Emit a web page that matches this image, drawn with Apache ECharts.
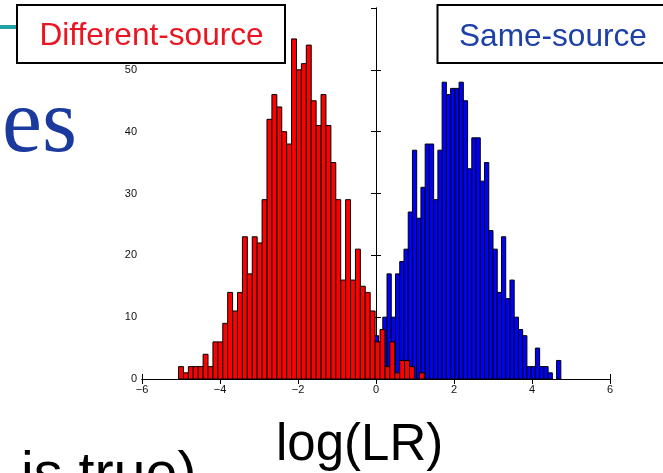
<!DOCTYPE html>
<html><head><meta charset="utf-8">
<script src="https://cdn.jsdelivr.net/npm/echarts@6/dist/echarts.min.js"></script>
<style>html,body{margin:0;padding:0;background:#fff;overflow:hidden}#c{width:663px;height:473px;}</style>
</head><body><div id="c"></div>
<script>
// ---- data ----
// Different-source (red) histogram: 50 equal bins
const redFirstCenter = -5.0;
const redBinWidth = 0.126;
const redCounts = [2,1,2,2,2,4,2,6,6,9,14,11,14,23,17,23,22,29,42,46,44,40,38,55,50,51,54,45,41,46,41,35,29,16,29,16,21,15,14,11,6,8,2,6,1,3,3,2,0,1];
// Same-source (blue) histogram: equal bins, last centre at 4.685
const blueLastCenter = 4.685;
const blueBinWidth = 0.1087;
const blueCounts = [7,6,10,17,10,17,19,21,27,37,26,31,38,38,29,37,48,46,47,47,48,45,34,39,39,32,35,24,21,14,23,13,16,10,8,7,2,2,5,2,2,1,0,3];
const xTicks = [-6,-4,-2,0,2,4,6];
const yTicks = [0,10,20,30,40,50,60];
const labelRed = 'Different-source';
const labelBlue = 'Same-source';
const xTitle = 'log(LR)';

const redData = redCounts.map((v,i)=>[redFirstCenter + i*redBinWidth, v]);
const blueData = blueCounts.map((v,i)=>[blueLastCenter - (blueCounts.length-1-i)*blueBinWidth, v]);

function barRender(width, color){
  return function(params, api){
    const c = api.value(0), v = api.value(1);
    if(!v) return;
    const p0 = api.coord([c - width/2, v]);
    const p1 = api.coord([c + width/2, 0]);
    return {type:'rect', shape:{x:p0[0], y:p0[1], width:p1[0]-p0[0], height:p1[1]-p0[1]},
      style:{fill:color, stroke:'#000', lineWidth:1}};
  };
}
const FONT = 'Liberation Sans, Arial, sans-serif';
const fmt = v => v < 0 ? '\u2212' + Math.abs(v) : String(v);
const axisCommon = {
  axisLine:{show:true, lineStyle:{color:'#000', width:1}},
  axisTick:{show:true, inside:true, length:5, lineStyle:{color:'#000', width:1}},
  splitLine:{show:false}
};
const chart = echarts.init(document.getElementById('c'), null, {renderer:'canvas'});
chart.setOption({
  backgroundColor:'#fff',
  animation:false,
  grid:{left:142, right:53, top:8, bottom:94},
  xAxis:[
    Object.assign({type:'value', min:xTicks[0], max:xTicks[xTicks.length-1], interval:2, position:'bottom',
      axisLabel:{formatter:fmt, color:'#111', fontSize:11, fontFamily:FONT, margin:5}}, axisCommon),
    Object.assign({type:'value', min:xTicks[0], max:xTicks[xTicks.length-1], interval:2, position:'top',
      axisLabel:{show:false}}, axisCommon)
  ],
  yAxis:[
    Object.assign({type:'value', min:yTicks[0], max:yTicks[yTicks.length-1], interval:10, position:'left',
      axisLabel:{formatter:fmt, color:'#111', fontSize:11, fontFamily:FONT, margin:5, showMaxLabel:false}}, axisCommon),
    Object.assign({type:'value', min:yTicks[0], max:yTicks[yTicks.length-1], interval:10, position:'right',
      axisLabel:{show:false}}, axisCommon)
  ],
  series:[
    {type:'custom', name:labelBlue, renderItem:barRender(blueBinWidth,'#0000ff'), data:blueData, encode:{x:0,y:1}, z:2},
    {type:'custom', name:labelRed, renderItem:barRender(redBinWidth,'#ff0000'), data:redData, encode:{x:0,y:1}, z:3}
  ],
  graphic:[
    {type:'rect', zlevel:1, shape:{x:0,y:25,width:20,height:4}, style:{fill:'#23a0a0'}},
    {type:'text', zlevel:1, x:2, y:172, style:{text:'es', font:'90px "Liberation Serif", "Times New Roman", serif', fill:'#1b3a9e', verticalAlign:'bottom'}},
    {type:'rect', zlevel:1, shape:{x:17,y:5,width:268,height:58}, style:{fill:'#fff', stroke:'#000', lineWidth:2}},
    {type:'text', zlevel:1, x:151.5, y:36.5, style:{text:labelRed, font:'31.6px "Liberation Sans", Arial, sans-serif', fill:'#ea1520', align:'center', verticalAlign:'middle'}},
    {type:'rect', zlevel:1, shape:{x:437.5,y:5,width:240,height:58}, style:{fill:'#fff', stroke:'#000', lineWidth:2}},
    {type:'text', zlevel:1, x:459, y:37, style:{text:labelBlue, font:'31.6px "Liberation Sans", Arial, sans-serif', fill:'#1c40a8', align:'left', verticalAlign:'middle'}},
    {type:'text', zlevel:1, x:276, y:446, style:{text:xTitle, font:'51px "Liberation Sans", Arial, sans-serif', fill:'#000', verticalAlign:'middle'}},
    {type:'text', zlevel:1, x:21, y:476, style:{text:'is true)', font:'57.5px "Liberation Sans", Arial, sans-serif', fill:'#000', verticalAlign:'middle'}}
  ]
});
</script></body></html>
